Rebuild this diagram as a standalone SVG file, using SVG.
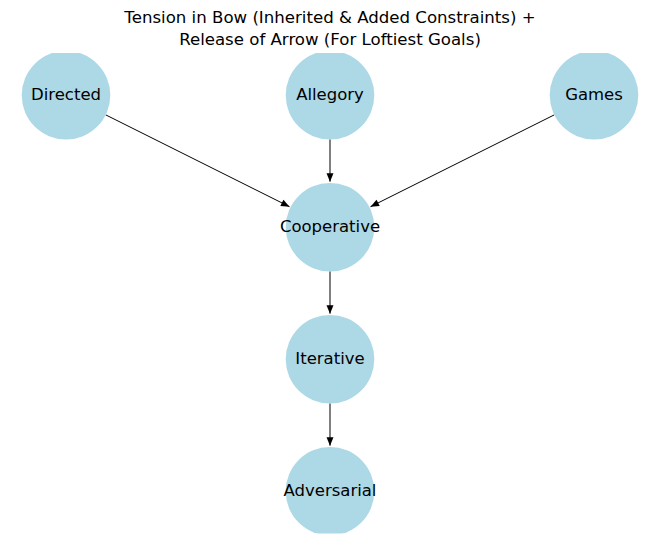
<svg xmlns="http://www.w3.org/2000/svg" width="660" height="543" viewBox="0 0 660 543">
<style>
.title{font-family:"DejaVu Sans",Verdana,sans-serif;font-size:16.6px;fill:#000;text-anchor:middle}
.node circle{fill:#add8e6}
.node text{font-family:"DejaVu Sans",Verdana,sans-serif;font-size:16.5px;fill:#000;text-anchor:middle}
.edge{stroke:#000;stroke-width:1;fill:none;marker-end:url(#arr)}
</style>
<defs>
<clipPath id="ax"><rect x="0" y="53" width="660" height="480.5"/></clipPath>
<marker id="arr" markerUnits="userSpaceOnUse" markerWidth="12" markerHeight="10" viewBox="-10 -5 12 10" refX="0" refY="0" orient="auto" overflow="visible">
<path d="M0,0 L-8.5,-3.5 L-8.5,3.5 Z" fill="#000"/>
</marker>
</defs>
<rect width="660" height="543" fill="#fff"/>
<text class="title" x="330" y="23.4">Tension in Bow (Inherited &amp; Added Constraints) +</text>
<text class="title" x="330" y="44.6">Release of Arrow (For Loftiest Goals)</text>
<g id="connectors">
<line class="edge" x1="105.6" y1="114.8" x2="289.5" y2="206.7"/>
<line class="edge" x1="330" y1="139.3" x2="330" y2="181.7"/>
<line class="edge" x1="554.4" y1="114.8" x2="370.5" y2="206.7"/>
<line class="edge" x1="330" y1="271.3" x2="330" y2="313.7"/>
<line class="edge" x1="330" y1="403.3" x2="330" y2="445.7"/>
</g>
<g clip-path="url(#ax)">
<g id="node-directed" class="node"><circle cx="66" cy="95.2" r="44.3"/><text x="66" y="99.8">Directed</text></g>
<g id="node-allegory" class="node"><circle cx="330" cy="95.2" r="44.3"/><text x="330" y="99.8">Allegory</text></g>
<g id="node-games" class="node"><circle cx="594" cy="95.2" r="44.3"/><text x="594" y="99.8">Games</text></g>
<g id="node-cooperative" class="node"><circle cx="330" cy="227.2" r="44.3"/><text x="330" y="231.8">Cooperative</text></g>
<g id="node-iterative" class="node"><circle cx="330" cy="359.2" r="44.3"/><text x="330" y="363.8">Iterative</text></g>
<g id="node-adversarial" class="node"><circle cx="330" cy="491.2" r="44.3"/><text x="330" y="495.8">Adversarial</text></g>
</g>
</svg>
